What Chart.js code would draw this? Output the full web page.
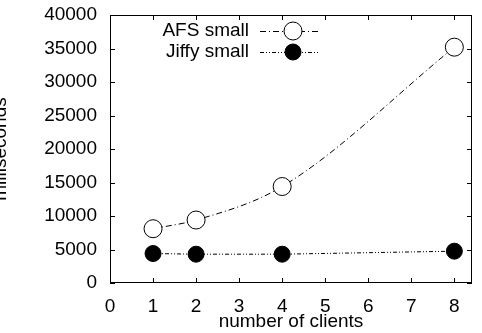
<!DOCTYPE html>
<html>
<head>
<meta charset="utf-8">
<script src="https://cdn.jsdelivr.net/npm/chart.js@4"></script>
<style>
  html, body { margin: 0; padding: 0; background: #fff; }
  #wrap { width: 482px; height: 333px; }
</style>
</head>
<body>
<div id="wrap"><canvas id="chart" width="482" height="333"></canvas></div>
<script>
const clients = [1, 2, 4, 8];
const afsSmall = [8100, 9400, 14400, 35200];
const jiffySmall = [4400, 4300, 4300, 4750];
const xTicks = [0, 1, 2, 3, 4, 5, 6, 7, 8];
const yTicks = [0, 5000, 10000, 15000, 20000, 25000, 30000, 35000, 40000];

const FONT = 'Liberation Sans, Arial, sans-serif';
const FSIZE = 19;

const toPoints = (vals) => vals.map((v, i) => ({ x: clients[i], y: v }));

// gnuplot-like frame with inward ticks, legend and y title
const framePlugin = {
    id: 'frame',
    afterDraw(chart) {
        const ctx = chart.ctx;
        const a = chart.chartArea;
        const xs = chart.scales.x, ys = chart.scales.y;
        ctx.save();
        ctx.strokeStyle = '#000';
        ctx.lineWidth = 1;
        ctx.setLineDash([]);
        ctx.strokeRect(a.left + 0.5, a.top + 0.5, a.right - a.left - 1, a.bottom - a.top - 1);
        ctx.beginPath();
        xTicks.forEach(t => {
            const px = Math.round(xs.getPixelForValue(t)) + 0.5;
            ctx.moveTo(px, a.bottom); ctx.lineTo(px, a.bottom - 5);
            ctx.moveTo(px, a.top); ctx.lineTo(px, a.top + 5);
        });
        yTicks.forEach(t => {
            const py = Math.round(ys.getPixelForValue(t)) + 0.5;
            ctx.moveTo(a.left, py); ctx.lineTo(a.left + 5, py);
            ctx.moveTo(a.right, py); ctx.lineTo(a.right - 5, py);
        });
        ctx.stroke();

        // legend
        ctx.font = FSIZE + 'px ' + FONT;
        ctx.fillStyle = '#000';
        ctx.textAlign = 'right';
        ctx.textBaseline = 'middle';
        const rows = [
            { label: 'AFS small', y: 31, ds: chart.data.datasets[0] },
            { label: 'Jiffy small', y: 52, ds: chart.data.datasets[1] }
        ];
        rows.forEach(r => {
            ctx.fillText(r.label, 249, r.y);
            ctx.beginPath();
            ctx.setLineDash(r.ds.borderDash);
            ctx.moveTo(260, r.y + 0.5); ctx.lineTo(320, r.y + 0.5);
            ctx.stroke();
            ctx.setLineDash([]);
            ctx.beginPath();
            ctx.arc(293, r.y, r.ds.pointRadius, 0, Math.PI * 2);
            ctx.fillStyle = r.ds.pointBackgroundColor;
            ctx.fill();
            ctx.stroke();
            ctx.fillStyle = '#000';
        });

        // y axis title, partly cut off at the left edge
        ctx.translate(6, (a.top + a.bottom) / 2);
        ctx.rotate(-Math.PI / 2);
        ctx.textAlign = 'center';
        ctx.textBaseline = 'alphabetic';
        ctx.fillText('milliseconds', 0, 0);
        ctx.restore();
    }
};

new Chart(document.getElementById('chart'), {
    type: 'line',
    data: {
        datasets: [{
            label: 'AFS small',
            data: toPoints(afsSmall),
            borderColor: '#000',
            borderWidth: 1,
            borderDash: [6, 3, 1, 3],
            cubicInterpolationMode: 'monotone',
            pointRadius: 9,
            pointHoverRadius: 9,
            pointBackgroundColor: '#fff',
            pointBorderColor: '#000',
            pointBorderWidth: 1
        }, {
            label: 'Jiffy small',
            data: toPoints(jiffySmall),
            borderColor: '#000',
            borderWidth: 1,
            borderDash: [4, 2, 1, 2, 1, 2],
            pointRadius: 8,
            pointHoverRadius: 8,
            pointBackgroundColor: '#000',
            pointBorderColor: '#000',
            pointBorderWidth: 1
        }]
    },
    options: {
        responsive: false,
        animation: false,
        events: [],
        layout: { padding: { left: 0, right: 1, top: 15, bottom: 0 } },
        plugins: {
            legend: { display: false },
            tooltip: { enabled: false }
        },
        scales: {
            x: {
                type: 'linear',
                min: 0,
                max: 8.41,
                grid: { display: false, drawTicks: false },
                border: { display: false },
                afterBuildTicks(scale) { scale.ticks = xTicks.map(v => ({ value: v })); },
                afterFit(scale) { scale.height = 50; scale.paddingLeft = 0; scale.paddingRight = 0; },
                ticks: {
                    color: '#000',
                    padding: 12,
                    maxRotation: 0,
                    font: { family: FONT, size: FSIZE }
                },
                title: {
                    display: true,
                    text: 'number of clients',
                    color: '#000',
                    padding: { top: 0, bottom: 0 },
                    font: { family: FONT, size: FSIZE }
                }
            },
            y: {
                min: 0,
                max: 40000,
                grid: { display: false, drawTicks: false },
                border: { display: false },
                afterBuildTicks(scale) { scale.ticks = yTicks.map(v => ({ value: v })); },
                afterFit(scale) { scale.width = 110; scale.paddingTop = 0; scale.paddingBottom = 0; },
                ticks: {
                    color: '#000',
                    padding: 13,
                    font: { family: FONT, size: FSIZE },
                    callback: (v) => String(v)
                }
            }
        }
    },
    plugins: [framePlugin]
});
</script>
</body>
</html>
